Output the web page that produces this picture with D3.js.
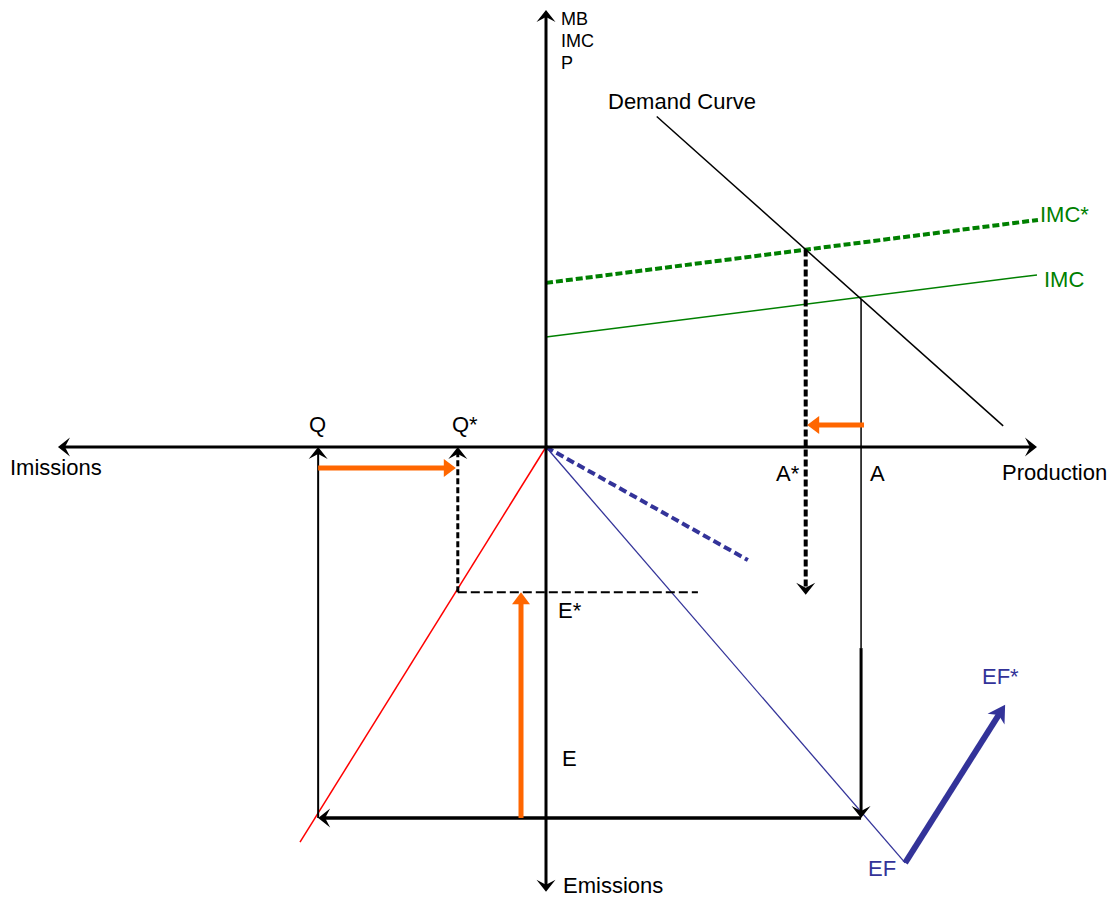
<!DOCTYPE html>
<html>
<head>
<meta charset="utf-8">
<script src="https://cdn.jsdelivr.net/npm/d3@7"></script>
<style>
  body { margin: 0; background: #fff; }
  text { font-family: "Liberation Sans", Arial, sans-serif; }
</style>
</head>
<body>
<svg class="chart"></svg>
<script>
var width = 1112,
    height = 897;

// diagram values in abstract units: production right, price up, emissions down, imissions left
var xAxisEnds = [-9.96, 10.02];
var yAxisEnds = [-10.11, 9.93];
var demandCurve = [[2.26, 7.51], [9.33, 0.48]];
var imcLine = [[0, 2.5], [10.02, 3.91]];
var imcStarLine = [[0, 3.73], [10.04, 5.16]];
var imissionLine = [[0, 0], [-5.02, -8.98]];
var efLine = [[0, 0], [7.33, -9.45]];
var efStarLine = [[0, 0], [4.12, -2.57]];
var efShift = [[7.33, -9.45], [9.37, -5.86]];

var prodA = 6.43, prodAStar = 5.3;     // production levels
var emisE = -8.43, emisEStar = -3.3;   // emission levels
var imisQ = -4.65, imisQStar = -1.8;   // imission levels
var aBreak = -4.57;                    // where the A drop line gets heavier
var eStarEnd = 3.1;

// orange shift arrows [from, to]
var shiftArrows = [
  [[6.49, 0.5], [5.33, 0.5]],
  [[imisQ, -0.48], [-1.84, -0.48]],
  [[-0.51, emisE], [-0.51, emisEStar]]
];

var x = d3.scaleLinear()
    .domain([-10, 10])
    .range([56, 1036]);
var y = d3.scaleLinear()
    .domain([-10, 10])
    .range([887, 7]);

var svg = d3.select(".chart")
    .attr("width", width)
    .attr("height", height);

var line = d3.line()
    .x(function(d) { return x(d[0]); })
    .y(function(d) { return y(d[1]); });

function yAt(l, xv) {
  var a = l[0], b = l[1];
  return a[1] + (b[1] - a[1]) * (xv - a[0]) / (b[0] - a[0]);
}

function path(pts, color, w, dash) {
  var p = svg.append("path")
      .attr("d", line(pts))
      .attr("fill", "none")
      .attr("stroke", color)
      .attr("stroke-width", w);
  if (dash) p.attr("stroke-dasharray", dash);
  return p;
}

var heads = {
  stealth: "M0,0 L-12,-9.5 L-7,0 L-12,9.5 Z",
  tri: "M0,0 L-12,-9 L-12,9 Z",
  big: "M0,0 L-17,-10 L-12,0 L-17,10 Z"
};
var insets = { stealth: 6, tri: 10, big: 11 };

function arrow(p0, p1, color, w, head, dash) {
  var x0 = x(p0[0]), y0 = y(p0[1]), x1 = x(p1[0]), y1 = y(p1[1]);
  var a = Math.atan2(y1 - y0, x1 - x0);
  var len = Math.sqrt((x1 - x0) * (x1 - x0) + (y1 - y0) * (y1 - y0));
  var k = (len - insets[head]) / len;
  var l = svg.append("line")
      .attr("x1", x0).attr("y1", y0)
      .attr("x2", x0 + (x1 - x0) * k).attr("y2", y0 + (y1 - y0) * k)
      .attr("stroke", color)
      .attr("stroke-width", w);
  if (dash) l.attr("stroke-dasharray", dash);
  svg.append("path")
      .attr("d", heads[head])
      .attr("transform", "translate(" + x1 + "," + y1 + ") rotate(" + (a * 180 / Math.PI) + ")")
      .attr("fill", color);
}

var green = "#008000", blue = "#333399", orange = "#ff6600";

// upper quadrant
path(imcStarLine, green, 4, "7,3");
path(imcLine, green, 1.5);
path(demandCurve, "#000", 1.5);

// lower quadrants
path(imissionLine, "#ff0000", 1.5);
path(efLine, blue, 1.3);
path(efStarLine, blue, 4, "8,4");
arrow(efShift[0], efShift[1], blue, 6, "big");

// drop lines
var aTop = yAt(demandCurve, prodA);
var aStarTop = yAt(demandCurve, prodAStar);
path([[prodA, aTop], [prodA, aBreak]], "#000", 1.5);
arrow([prodA, aBreak], [prodA, emisE], "#000", 3, "stealth");
arrow([prodAStar, aStarTop], [prodAStar, -3.36], "#000", 4, "stealth", "7,3");
arrow([prodA, emisE], [imisQ, emisE], "#000", 3.5, "stealth");
arrow([imisQ, emisE], [imisQ, 0], "#000", 2, "stealth");
arrow([imisQStar, emisEStar], [imisQStar, 0], "#000", 3, "stealth", "6,3");
path([[imisQStar, emisEStar], [eStarEnd, emisEStar]], "#000", 2, "9,4");

// axes
arrow([0, 0], [xAxisEnds[0], 0], "#000", 3, "stealth");
arrow([0, 0], [xAxisEnds[1], 0], "#000", 3, "stealth");
arrow([0, 0], [0, yAxisEnds[0]], "#000", 3, "stealth");
arrow([0, 0], [0, yAxisEnds[1]], "#000", 3, "stealth");

shiftArrows.forEach(function(d) {
  arrow(d[0], d[1], orange, 5, "tri");
});

// labels
var labels = [
  ["MB", 561, 25, 18, "#000"],
  ["IMC", 561, 47, 18, "#000"],
  ["P", 561, 69, 18, "#000"],
  ["Demand Curve", 608, 109, 22, "#000"],
  ["IMC*", 1040, 222, 22, green],
  ["IMC", 1044, 287, 22, green],
  ["A*", 776, 481, 22, "#000"],
  ["A", 870, 481, 22, "#000"],
  ["Production", 1002, 480, 22, "#000"],
  ["Imissions", 10, 475, 22, "#000"],
  ["Q", 309, 432, 22, "#000"],
  ["Q*", 452, 432, 22, "#000"],
  ["E*", 558, 618, 22, "#000"],
  ["E", 562, 766, 22, "#000"],
  ["Emissions", 563, 893, 22, "#000"],
  ["EF*", 982, 684, 22, blue],
  ["EF", 868, 876, 22, blue]
];

svg.selectAll("text.lbl")
    .data(labels)
  .enter().append("text")
    .attr("class", "lbl")
    .attr("x", function(d) { return d[1]; })
    .attr("y", function(d) { return d[2]; })
    .attr("font-size", function(d) { return d[3]; })
    .attr("fill", function(d) { return d[4]; })
    .text(function(d) { return d[0]; });
</script>
</body>
</html>
